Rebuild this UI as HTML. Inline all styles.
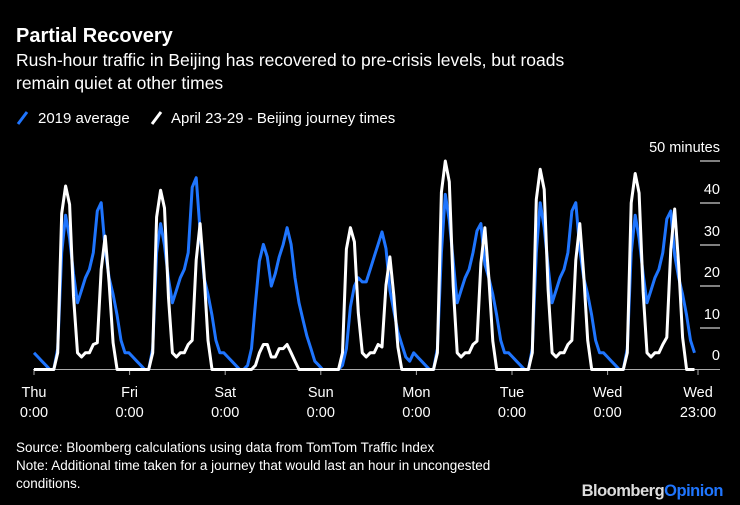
<!DOCTYPE html>
<html><head><meta charset="utf-8"><style>
body{margin:0;background:#000;width:740px;height:505px;overflow:hidden;font-family:"Liberation Sans",sans-serif;color:#fff}
svg{position:absolute;left:0;top:0}
</style></head><body>
<svg width="740" height="505" viewBox="0 0 740 505" font-family="Liberation Sans, sans-serif">
<text x="16" y="42" font-size="20" font-weight="bold" fill="#fff">Partial Recovery</text>
<text x="16" y="66" font-size="17.5" fill="#fff">Rush-hour traffic in Beijing has recovered to pre-crisis levels, but roads</text>
<text x="16" y="89" font-size="17.5" fill="#fff">remain quiet at other times</text>
<line x1="18" y1="124" x2="27" y2="112" stroke="#1f75fe" stroke-width="3"/>
<text x="38" y="123" font-size="15" fill="#fff">2019 average</text>
<line x1="152" y1="124" x2="161" y2="112" stroke="#fff" stroke-width="3"/>
<text x="171" y="123" font-size="15" fill="#fff">April 23-29 - Beijing journey times</text>
<g stroke="#fff" stroke-width="1">
<line x1="700" y1="161" x2="720" y2="161"/><line x1="700" y1="203" x2="720" y2="203"/>
<line x1="700" y1="245" x2="720" y2="245"/><line x1="700" y1="286" x2="720" y2="286"/>
<line x1="700" y1="328" x2="720" y2="328"/>
</g>
<g font-size="14.5" fill="#fff" text-anchor="end">
<text x="720" y="152">50 minutes</text><text x="720" y="194">40</text><text x="720" y="236">30</text>
<text x="720" y="277">20</text><text x="720" y="319">10</text><text x="720" y="360">0</text>
</g>
<line x1="33" y1="369.5" x2="720" y2="369.5" stroke="#aaa" stroke-width="1"/>
<g id="ticks" stroke="#aaa"></g>
<g id="lines"></g>
<g font-size="14.5" fill="#fff" text-anchor="middle" id="xl"></g>
<text x="16" y="452" font-size="13.5" fill="#fff">Source: Bloomberg calculations using data from TomTom Traffic Index</text>
<text x="16" y="470" font-size="13.5" fill="#fff">Note: Additional time taken for a journey that would last an hour in uncongested</text>
<text x="16" y="488" font-size="13.5" fill="#fff">conditions.</text>
<text x="723" y="496" font-size="16.5" font-weight="bold" text-anchor="end" letter-spacing="-0.5"><tspan fill="#ddd">Bloomberg</tspan><tspan fill="#1f75fe">Opinion</tspan></text>
</svg>
<script>
var NS="http://www.w3.org/2000/svg";
function wd(A,P){return [4,3,2,1,0,0,5,28,A,A*.85,A*.62,16,19,22,24,28,P*.95,P,P*.72,22,18,13,7,4];}
function ww(A,P){return [0,0,0,0,0,0,4,A*.85,A,A*.9,A*.4,4,3,4,4,6,P*.2,P*.75,P,P*.65,P*.2,0,0,0];}
var blue=[].concat(wd(37,40),wd(35,46),
 [4,3,2,1,0,0,1,5,16,26,30,27,20,23,27,30,34,30,22,16,12,8,5,2],
 [1,0,0,0,0,0,1,5,15,20,22,21,21,24,27,30,33,29,19,14,9,6,3,2],
 wd(42,35),wd(40,40),wd(37,38)).slice(0,7*24);
var white=[].concat(ww(44,32),ww(43,35),
 [0,0,0,0,0,0,0,0,1,4,6,6,3,3,5,5,6,4,2,0,0,0,0,0],
 ww(34,27),ww(50,34),ww(48,35),ww(47,38.5)).slice(0,7*24);
blue[0]=4;
var n=7*24;
function pts(a){var s=[];for(var i=0;i<n;i++){s.push((34+i*3.955).toFixed(1)+","+(369.5-a[i]*4.17).toFixed(1));}return s.join(" ");}
var g=document.getElementById("lines");
[[blue,"#1f75fe"],[white,"#fff"]].forEach(function(d){var p=document.createElementNS(NS,"polyline");p.setAttribute("points",pts(d[0]));p.setAttribute("fill","none");p.setAttribute("stroke",d[1]);p.setAttribute("stroke-width","3");p.setAttribute("stroke-linejoin","round");g.appendChild(p);});
var days=["Thu","Fri","Sat","Sun","Mon","Tue","Wed"],xl=document.getElementById("xl"),tk=document.getElementById("ticks");
function lab(x,a,b){var t=document.createElementNS(NS,"text");t.setAttribute("x",x);t.setAttribute("y",397);t.textContent=a;xl.appendChild(t);t=document.createElementNS(NS,"text");t.setAttribute("x",x);t.setAttribute("y",417);t.textContent=b;xl.appendChild(t);var l=document.createElementNS(NS,"line");l.setAttribute("x1",x);l.setAttribute("x2",x);l.setAttribute("y1",369.5);l.setAttribute("y2",375);tk.appendChild(l);}
days.forEach(function(d,i){lab(34+i*95.6,d,"0:00");});
lab(698,"Wed","23:00");
</script>
</body></html>
